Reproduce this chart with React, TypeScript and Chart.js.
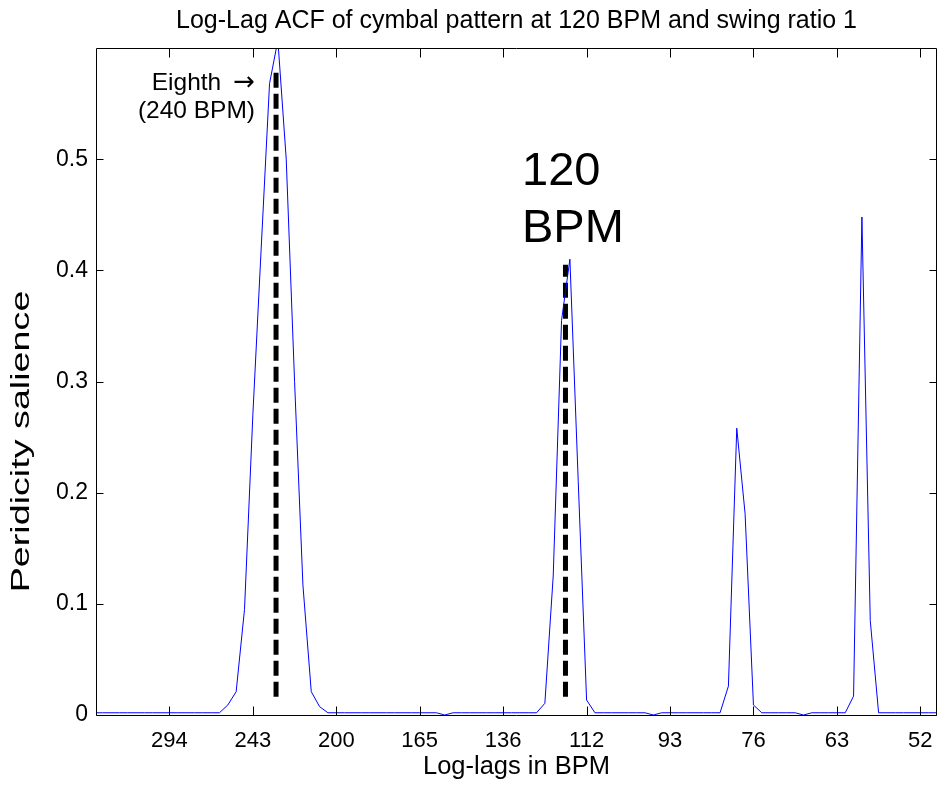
import React, { useEffect, useRef } from 'react';
import { Chart, registerables } from 'chart.js';

Chart.register(...registerables);

// Periodicity salience per log-lag bin (bin 1 .. 102)
const salience: number[] = [
  0.002, 0.002, 0.002, 0.002, 0.002, 0.002, 0.002, 0.002, 0.002, 0.002,
  0.002, 0.002, 0.002, 0.002, 0.002, 0.002, 0.009, 0.021, 0.095, 0.27,
  0.42, 0.568, 0.607, 0.5, 0.3, 0.117, 0.021, 0.0075, 0.002, 0.002,
  0.002, 0.002, 0.002, 0.002, 0.002, 0.002, 0.002, 0.002, 0.002, 0.002,
  0.002, 0.002, 0.0, 0.002, 0.002, 0.002, 0.002, 0.002, 0.002, 0.002,
  0.002, 0.002, 0.002, 0.002, 0.0105, 0.125, 0.355, 0.41, 0.21, 0.0135,
  0.002, 0.002, 0.002, 0.002, 0.002, 0.002, 0.002, 0.0, 0.002, 0.002,
  0.002, 0.002, 0.002, 0.002, 0.002, 0.002, 0.026, 0.258, 0.181, 0.009,
  0.002, 0.002, 0.002, 0.002, 0.002, 0.0, 0.002, 0.002, 0.002, 0.002,
  0.002, 0.017, 0.448, 0.085, 0.002, 0.002, 0.002, 0.002, 0.002, 0.002,
  0.002, 0.002,
];

const tickBins = [10, 20, 30, 40, 50, 60, 70, 80, 90, 100];
const tickLabels = ['294', '243', '200', '165', '136', '112', '93', '76', '63', '52'];
const yTickValues = [0, 0.1, 0.2, 0.3, 0.4, 0.5];

// dashed reference markers (240 BPM, 120 BPM)
const markerBins = [22.78, 57.47];
const markerLow = [0.0165, 0.0165];
const markerHigh = [0.578, 0.405];

// annotation texts with their anchors in data coordinates
const noteTexts = ['Eighth', '(240 BPM)', '120', 'BPM'];
const noteBins = [20.26, 20.26, 52.26, 52.26];
const noteValues = [0.5622, 0.537, 0.4767, 0.4258];
const arrowText = '\u2192';

const titleText = 'Log-Lag ACF of cymbal pattern at 120 BPM and swing ratio 1';
const xTitle = 'Log-lags in BPM';
const yTitle = 'Peridicity salience';

const FONT = '"Liberation Sans", Arial, Helvetica, sans-serif';

export default function App() {
  const ref = useRef<HTMLCanvasElement | null>(null);

  useEffect(() => {
    const canvas = ref.current;
    if (!canvas) return;

    const framePlugin = {
      id: 'matlabFrame',
      afterDatasetsDraw(chart: any) {
        const { ctx, chartArea, scales } = chart;
        const { left, right, top, bottom } = chartArea;
        const xs = scales.x;
        const ys = scales.y;
        ctx.save();
        ctx.strokeStyle = '#000';
        ctx.lineWidth = 1;
        const L = Math.round(left) + 0.5;
        const R = Math.round(right) - 0.5;
        const T = Math.round(top) + 0.5;
        const B = Math.round(bottom) + 0.5;
        ctx.beginPath();
        ctx.rect(L, T, R - L, B - T);
        ctx.stroke();
        ctx.beginPath();
        tickBins.forEach((b) => {
          const px = Math.round(xs.getPixelForValue(b)) + 0.5;
          ctx.moveTo(px, B);
          ctx.lineTo(px, B - 9);
          ctx.moveTo(px, T);
          ctx.lineTo(px, T + 9);
        });
        yTickValues.forEach((v) => {
          const py = Math.round(ys.getPixelForValue(v)) + 0.5;
          ctx.moveTo(L, py);
          ctx.lineTo(L + 7, py);
          ctx.moveTo(R, py);
          ctx.lineTo(R - 7, py);
        });
        ctx.stroke();

        ctx.fillStyle = '#000';
        ctx.textBaseline = 'alphabetic';
        noteTexts.forEach((t, i) => {
          const px = xs.getPixelForValue(noteBins[i]);
          const py = ys.getPixelForValue(noteValues[i]);
          const big = i >= 2;
          if (big) {
            ctx.font = `47px ${FONT}`;
            ctx.textAlign = 'left';
            ctx.fillText(t, px, py);
          } else if (i === 0) {
            ctx.font = `26px "DejaVu Sans", sans-serif`;
            ctx.textAlign = 'right';
            ctx.fillText(arrowText, px, py);
            const aw = ctx.measureText(arrowText).width;
            ctx.font = `24.5px ${FONT}`;
            ctx.fillText(t, px - aw - 12, py);
          } else {
            ctx.font = `24.5px ${FONT}`;
            ctx.textAlign = 'right';
            ctx.fillText(t, px, py);
          }
        });

        // y-axis label (drawn wide, as in the reference)
        ctx.save();
        ctx.translate(22, (top + bottom) / 2 + 60);
        ctx.rotate(-Math.PI / 2);
        ctx.scale(1.45, 1);
        ctx.font = `26px ${FONT}`;
        ctx.textAlign = 'center';
        ctx.textBaseline = 'middle';
        ctx.fillText(yTitle, 0, 0);
        ctx.restore();

        ctx.restore();
      },
    };

    const chart = new Chart(canvas, {
      type: 'line',
      data: {
        datasets: [
          {
            data: [
              { x: markerBins[0], y: markerLow[0] },
              { x: markerBins[0], y: markerHigh[0] },
            ],
            borderColor: '#000',
            borderWidth: 5,
            borderDash: [15, 6],
            pointRadius: 0,
            order: 2,
          },
          {
            data: [
              { x: markerBins[1], y: markerLow[1] },
              { x: markerBins[1], y: markerHigh[1] },
            ],
            borderColor: '#000',
            borderWidth: 5,
            borderDash: [15, 6],
            pointRadius: 0,
            order: 2,
          },
          {
            data: salience.map((v, i) => ({ x: i + 1, y: v })),
            borderColor: '#0000FF',
            borderWidth: 1,
            pointRadius: 0,
            tension: 0,
            order: 1,
          },
        ],
      },
      options: {
        responsive: false,
        animation: false,
        events: [],
        layout: { padding: { left: 0, right: 3, top: 0, bottom: 0 } },
        plugins: {
          legend: { display: false },
          tooltip: { enabled: false },
          title: {
            display: true,
            text: titleText,
            fullSize: false,
            color: '#000',
            font: { family: FONT, size: 25, weight: 'normal', lineHeight: 1.2 },
            padding: { top: 6, bottom: 12 },
          },
        },
        scales: {
          x: {
            type: 'linear',
            min: 1.2,
            max: 102,
            grid: { display: false, drawTicks: false },
            border: { display: false },
            afterBuildTicks: (s: any) => {
              s.ticks = tickBins.map((v) => ({ value: v }));
            },
            afterFit: (s: any) => {
              s.height = 70;
              s.paddingLeft = 0;
              s.paddingRight = 0;
            },
            ticks: {
              autoSkip: false,
              maxRotation: 0,
              padding: 13,
              color: '#000',
              font: { family: FONT, size: 22 },
              callback: (v: any) => {
                const k = tickBins.indexOf(Number(v));
                return k >= 0 ? tickLabels[k] : '';
              },
            },
            title: {
              display: true,
              text: xTitle,
              color: '#000',
              font: { family: FONT, size: 25.5 },
              padding: { top: 0, bottom: 3 },
            },
          },
          y: {
            min: 0,
            max: 0.6,
            grid: { display: false, drawTicks: false },
            border: { display: false },
            afterBuildTicks: (s: any) => {
              s.ticks = yTickValues.map((v) => ({ value: v }));
            },
            afterFit: (s: any) => {
              s.width = 96;
              s.paddingTop = 0;
              s.paddingBottom = 0;
            },
            ticks: {
              padding: 8,
              color: '#000',
              font: { family: FONT, size: 23 },
              callback: (v: any) => (Number(v) === 0 ? '0' : Number(v).toFixed(1)),
            },
            title: { display: false, text: yTitle },
          },
        },
      },
      plugins: [framePlugin],
    });

    return () => chart.destroy();
  }, []);

  return (
    <div style={{ position: 'absolute', left: 0, top: 0, width: 940, height: 785, background: '#fff' }}>
      <canvas ref={ref} width={940} height={785} style={{ width: 940, height: 785, display: 'block' }} />
    </div>
  );
}
